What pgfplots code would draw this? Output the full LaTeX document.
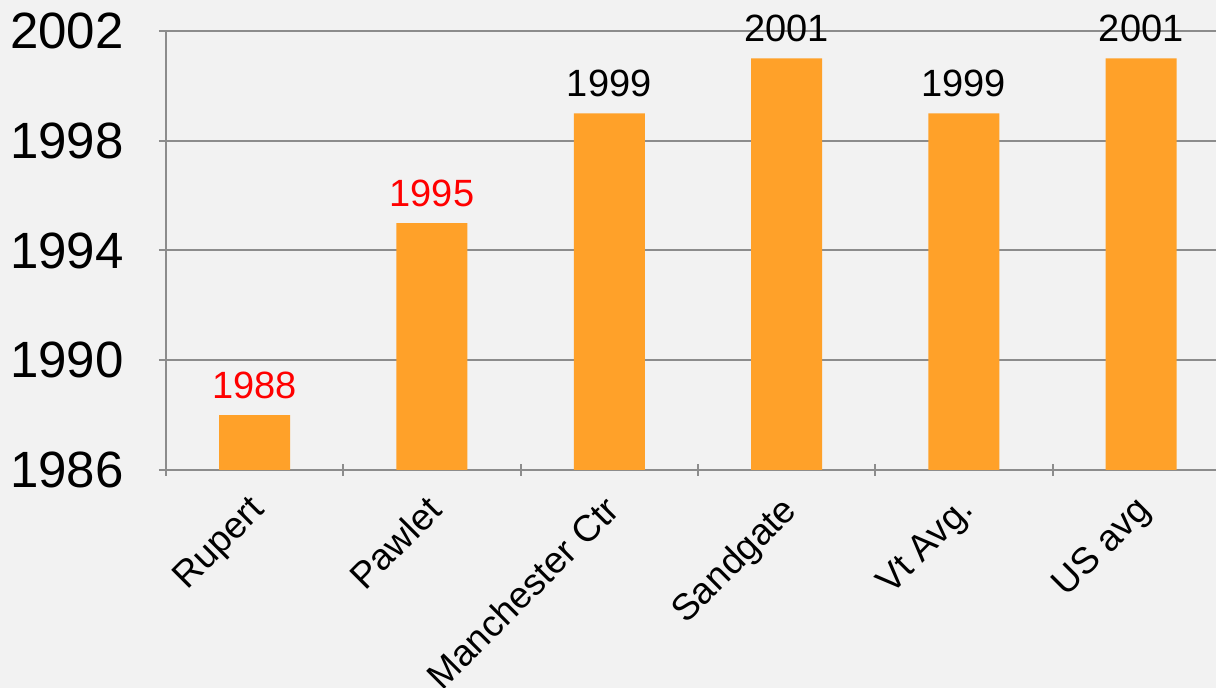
\documentclass[border=0pt]{standalone}
\usepackage{fontspec}
\setmainfont{Liberation Sans}
\usepackage{pgfplots}
\pgfplotsset{compat=1.18}
\definecolor{barorange}{RGB}{255,161,41}
\definecolor{bg}{RGB}{242,242,242}
\definecolor{gridgray}{RGB}{140,140,140}

\begin{document}
\begin{tikzpicture}
\fill[bg] (-83pt,-109pt) rectangle (525pt,235pt);
\begin{axis}[
  at={(0,0)}, anchor=south west,
  scale only axis, width=525pt, height=219.5pt,
  xmin=-0.5, xmax=5.422, ymin=1986, ymax=2002,
  ytick={1986,1990,1994,1998,2002},
  xtick={0,1,2,3,4,5},
  xticklabels={Rupert,Pawlet,Manchester Ctr,Sandgate,Vt Avg.,US avg},
  extra x ticks={-0.5,0.5,1.5,2.5,3.5,4.5},
  extra x tick labels={},
  extra x tick style={major tick length=6pt, xtick style={draw=gridgray, line width=1pt}},
  xtick style={draw=none},
  ytick style={draw=gridgray, line width=1pt},
  tick align=outside, major tick length=7pt,
  axis x line=bottom, axis y line=left,
  axis line style={draw=gridgray, line width=1pt, -},
  ymajorgrids, grid style={draw=gridgray, line width=1pt},
  /pgf/number format/.cd, 1000 sep={}, assume math mode=true, /pgfplots/.cd,
  yticklabel style={font=\fontsize{25.5}{30}\selectfont, anchor=east, inner sep=0pt, xshift=-17.5pt},
  xticklabel style={font=\fontsize{18.5}{22}\selectfont, yshift=-8pt, xshift=-3.5pt, rotate=45, anchor=north east, inner sep=0pt},
  every node near coord/.append style={font=\fontsize{19}{22}\selectfont, anchor=south, inner sep=0pt, yshift=8pt},
]
  \addplot[ybar, bar width=35.5pt, bar shift=0pt, fill=barorange, draw=none,
           nodes near coords, every node near coord/.append style={text=red}]
    coordinates {(0,1988) (1,1995)};
  \addplot[ybar, bar width=35.5pt, bar shift=0pt, fill=barorange, draw=none,
           nodes near coords, every node near coord/.append style={text=black}]
    coordinates {(2,1999) (3,2001) (4,1999) (5,2001)};
\end{axis}
\pgfresetboundingbox
\useasboundingbox (-83pt,-109pt) rectangle (525pt,235pt);
\end{tikzpicture}
\end{document}
